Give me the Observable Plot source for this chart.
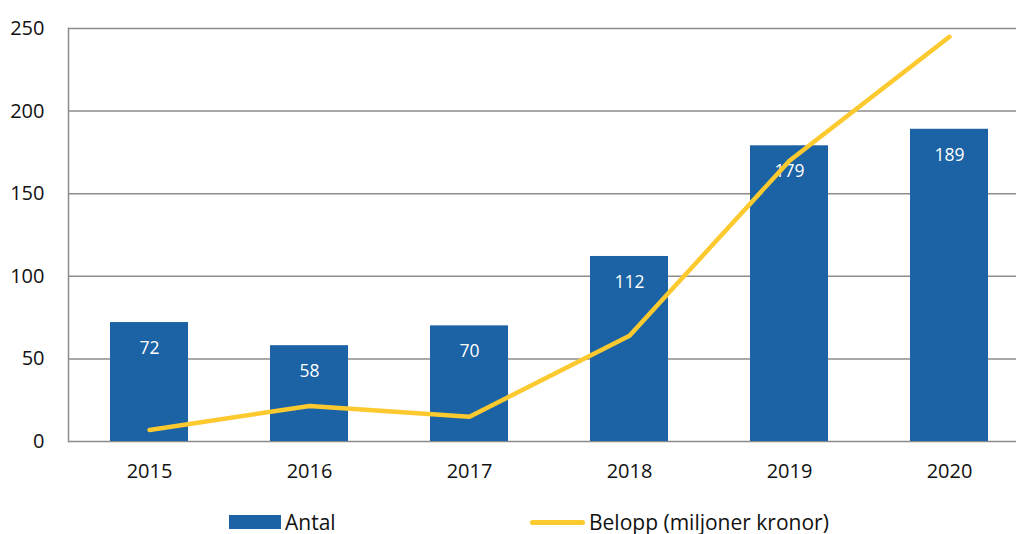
<!DOCTYPE html>
<html>
<head>
<meta charset="utf-8">
<script src="https://cdn.jsdelivr.net/npm/d3@7"></script>
<script src="https://cdn.jsdelivr.net/npm/@observablehq/plot@0.6"></script>
<style>
  html, body { margin: 0; padding: 0; background: #fff; overflow: hidden; }
  body { width: 1016px; height: 534px; position: relative; font-family: "Open Sans", "Noto Sans", sans-serif; }
  #chart svg { display: block; }
  .legend { position: absolute; top: 508px; left: 0; width: 1016px; height: 28px; font-size: 21px; color: #111; }
  .legend .item { position: absolute; top: 0; height: 28px; display: flex; align-items: center; }
  .sw-bar { width: 52px; height: 14px; background: #1b63a5; margin-right: 4px; }
  .sw-line { width: 55px; height: 5px; border-radius: 3px; background: #fcc92f; margin-right: 4px; }
</style>
</head>
<body>
<div id="chart"></div>
<div class="legend">
  <div class="item" style="left:229px"><span class="sw-bar"></span><span>Antal</span></div>
  <div class="item" style="left:530px"><span class="sw-line"></span><span>Belopp (miljoner kronor)</span></div>
</div>
<script>
const years = ["2015", "2016", "2017", "2018", "2019", "2020"];
const antal = [72, 58, 70, 112, 179, 189];
const belopp = [7, 21.5, 15, 64, 170, 245];
const yTicks = [0, 50, 100, 150, 200, 250];

const bars = years.map((y, i) => ({year: y, value: antal[i]}));
const line = years.map((y, i) => ({year: y, value: belopp[i]}));

const chart = Plot.plot({
  width: 1016,
  height: 500,
  marginTop: 28,
  marginBottom: 59,
  marginLeft: 68,
  marginRight: 0,
  style: {fontFamily: "'Open Sans', 'Noto Sans', sans-serif", fontSize: "20px", color: "#111"},
  x: {domain: years, range: [68, 1029], paddingInner: 0.515, paddingOuter: 0.2575, label: null},
  y: {domain: [0, 250], label: null},
  marks: [
    Plot.ruleY(yTicks, {stroke: "#8c8c8c", strokeWidth: 1.5, strokeOpacity: 1}),
    Plot.frame({anchor: "left", stroke: "#8c8c8c", strokeWidth: 1.5}),
    Plot.axisY({ticks: yTicks, tickSize: 0, tickPadding: 24, fontSize: 20, label: null}),
    Plot.axisX({tickSize: 0, tickPadding: 22, fontSize: 20, label: null}),
    Plot.barY(bars, {x: "year", y: "value", fill: "#1b63a5"}),
    Plot.text(bars, {x: "year", y: "value", text: d => String(d.value), fill: "white", fontSize: 17.5, lineAnchor: "middle", dy: 26}),
    Plot.line(line, {x: "year", y: "value", stroke: "#fcc92f", strokeWidth: 4.5, strokeLinecap: "round", strokeLinejoin: "miter"})
  ]
});
document.getElementById("chart").appendChild(chart);
</script>
</body>
</html>
